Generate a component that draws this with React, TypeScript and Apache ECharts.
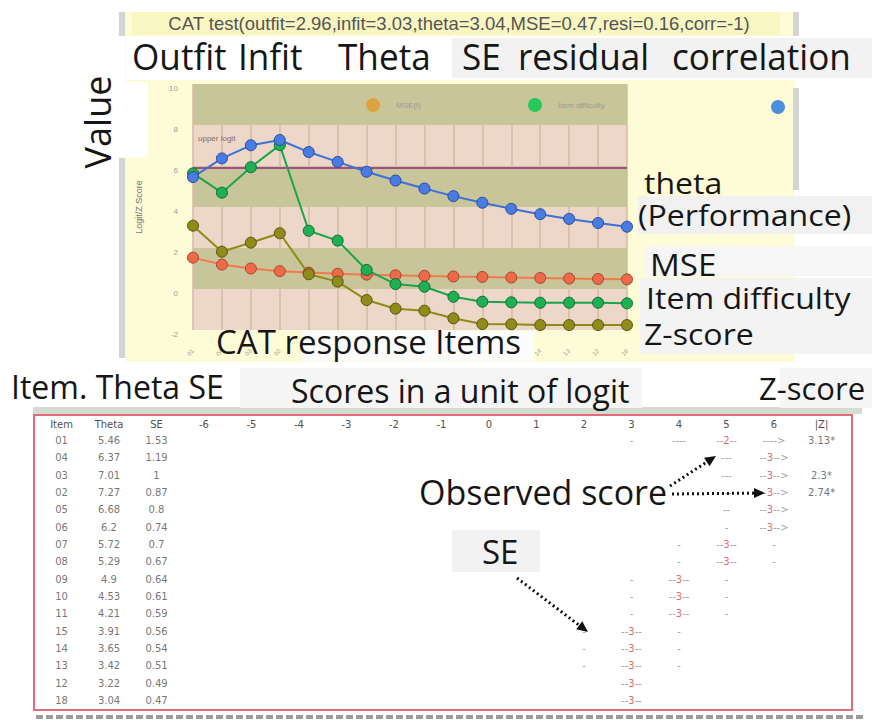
import React, { useEffect, useRef } from 'react';
import * as echarts from 'echarts';

// ---------- data ----------
const items = ['01', '04', '03', '02', '05', '06', '07', '08', '09', '10', '11', '15', '14', '13', '12', '18'];
const theta = [5.46, 6.37, 7.01, 7.27, 6.68, 6.2, 5.72, 5.29, 4.9, 4.53, 4.21, 3.91, 3.65, 3.42, 3.22, 3.04];
const se = [1.53, 1.19, 1, 0.87, 0.8, 0.74, 0.7, 0.67, 0.64, 0.61, 0.59, 0.56, 0.54, 0.51, 0.49, 0.47];
const itemDifficulty = [5.64, 4.7, 5.94, 7.02, 2.84, 2.36, 0.93, 0.24, 0.11, -0.38, -0.62, -0.65, -0.67, -0.67, -0.67, -0.7];
const zScore = [3.09, 1.82, 2.26, 2.72, 0.72, 0.36, -0.54, -0.96, -1.06, -1.43, -1.71, -1.72, -1.76, -1.76, -1.76, -1.76];
const upperLogit = 5.93;
const observedScores = [2, 3, 3, 3, 3, 3, 3, 3, 3, 3, 3, 3, 3, 3, 3, 3];
const absZ = ['3.13*', '', '2.3*', '2.74*', '', '', '', '', '', '', '', '', '', '', '', ''];
// logit column -> text ('#' = observed score)
const scoreBars: [number, string][][] = [
  [[3, '-'], [4, '----'], [5, '--#--'], [6, '---->']],
  [[5, '---'], [6, '--#-->']],
  [[5, '---'], [6, '--#-->']],
  [[5, '---'], [6, '--#-->']],
  [[5, '--'], [6, '--#-->']],
  [[5, '-'], [6, '--#-->']],
  [[4, '-'], [5, '--#--'], [6, '-']],
  [[4, '-'], [5, '--#--'], [6, '-']],
  [[3, '-'], [4, '--#--'], [5, '-']],
  [[3, '-'], [4, '--#--'], [5, '-']],
  [[3, '-'], [4, '--#--'], [5, '-']],
  [[2, '-'], [3, '--#--'], [4, '-']],
  [[2, '-'], [3, '--#--'], [4, '-']],
  [[2, '-'], [3, '--#--'], [4, '-']],
  [[3, '--#--']],
  [[3, '--#--']],
];
const tableHeaders = ['Item', 'Theta', 'SE', '-6', '-5', '-4', '-3', '-2', '-1', '0', '1', '2', '3', '4', '5', '6', '|Z|'];
const titleText = 'CAT test(outfit=2.96,infit=3.03,theta=3.04,MSE=0.47,resi=0.16,corr=-1)';

// ---------- helpers ----------
const BIG = '"Open Sans", "Noto Sans", sans-serif';
function txt(text: string, x: number, y: number, size: number, extra: any = {}) {
  return {
    type: 'text', x, y, z: 30,
    style: { text, fontSize: size, fontFamily: BIG, fill: '#161616', align: 'left', verticalAlign: 'middle', ...(extra.style || {}) },
    ...(extra.el || {}),
  };
}
function box(x: number, y: number, w: number, h: number, fill: string, z = 20, extra: any = {}) {
  return { type: 'rect', z, shape: { x, y, width: w, height: h }, style: { fill, ...extra } };
}
function arrow(x1: number, y1: number, x2: number, y2: number) {
  const a = Math.atan2(y2 - y1, x2 - x1);
  const L = 11, W = 5;
  const bx = x2 - L * Math.cos(a), by = y2 - L * Math.sin(a);
  const nx = -Math.sin(a), ny = Math.cos(a);
  return [
    { type: 'line', z: 31, shape: { x1, y1, x2: bx, y2: by }, style: { stroke: '#111', lineWidth: 3, lineDash: [2, 3] } },
    { type: 'polygon', z: 31, shape: { points: [[x2, y2], [bx + nx * W, by + ny * W], [bx - nx * W, by - ny * W]] }, style: { fill: '#111' } },
  ];
}

const KHAKI = '#c9c59a';
const PINK = '#ecd7c8';
const TFONT = '"DejaVu Sans", Verdana, sans-serif';

function buildTableData() {
  const data: any[] = [];
  items.forEach((it, i) => {
    data.push({ value: [-9, i], text: `{t|${it}}` });
    data.push({ value: [-8, i], text: `{t|${theta[i]}}` });
    data.push({ value: [-7, i], text: `{t|${se[i]}}` });
    scoreBars[i].forEach(([col, s]) => {
      data.push({ value: [col, i], text: '{g|' + s.replace('#', '}{r|' + observedScores[i] + '}{g|') + '}' });
    });
    if (absZ[i]) data.push({ value: [7, i], text: `{t|${absZ[i]}}` });
  });
  return data;
}

function makeSeries(name: string, data: number[], line: string, fill: string, border: string, extra: any = {}) {
  return {
    name, type: 'line', data, xAxisIndex: 0, yAxisIndex: 0,
    symbol: 'circle', symbolSize: 11, showSymbol: true,
    lineStyle: { color: line, width: 2 },
    itemStyle: { color: fill, borderColor: border, borderWidth: 1 },
    emphasis: { disabled: true },
    ...extra,
  };
}

const TOP = { el: { scaleX: 0.95 } };
const RIGHT = { el: { scaleX: 1.07 } };

export default function App() {
  const ref = useRef<HTMLDivElement>(null);
  useEffect(() => {
    const chart = echarts.init(ref.current!, null, { renderer: 'svg' });
    const legendBase = {
      icon: 'circle', itemWidth: 14, itemHeight: 14, selectedMode: false,
      textStyle: { color: '#999', fontSize: 8, fontFamily: 'Liberation Sans' },
    };
    const option: any = {
      animation: false,
      backgroundColor: '#ffffff',
      legend: [
        { ...legendBase, data: [{ name: 'MSE(t)', itemStyle: { color: '#dea23e', borderWidth: 0 } }], left: 361, top: 93, formatter: (n: string) => '     ' + n },
        { ...legendBase, data: [{ name: 'Item difficulty', itemStyle: { color: '#26c85c', borderWidth: 0 } }], left: 523, top: 93, formatter: (n: string) => '     ' + n },
        { ...legendBase, data: [{ name: 'Theta', itemStyle: { color: '#4a8fe0', borderWidth: 0 } }], left: 766, top: 95, formatter: () => '' },
      ],
      grid: [
        { left: 193, top: 84, width: 434, height: 246, show: true, backgroundColor: PINK, borderWidth: 0 },
        { left: 14, top: 432, width: 858, height: 277.3 },
      ],
      xAxis: [
        {
          gridIndex: 0, type: 'category', data: items, boundaryGap: false,
          axisLine: { show: false }, axisTick: { show: false },
          splitLine: { show: true, interval: 0, lineStyle: { color: '#d6b9a4', width: 1.5 } },
          axisLabel: { interval: 0, fontSize: 6, color: '#999', rotate: 45, margin: 20 },
        },
        {
          gridIndex: 1, type: 'value', min: -10, max: 8, interval: 1, position: 'top',
          axisLine: { show: false }, axisTick: { show: false }, splitLine: { show: false },
          axisLabel: {
            margin: 3, color: '#505050', fontSize: 10, fontFamily: TFONT,
            formatter: (v: number) => tableHeaders[v + 9] ?? '',
          },
        },
      ],
      yAxis: [
        {
          gridIndex: 0, type: 'value', min: -2, max: 10, interval: 2,
          name: 'Logit/Z Score', nameLocation: 'middle', nameGap: 50,
          nameTextStyle: { color: '#777', fontSize: 9, fontFamily: 'Liberation Sans' },
          axisLine: { show: false }, axisTick: { show: false }, splitLine: { show: false },
          axisLabel: { color: '#a0a0a0', fontSize: 8, margin: 15, verticalAlign: 'top' },
        },
        { gridIndex: 1, type: 'category', data: items, inverse: true, show: false },
      ],
      series: [
        makeSeries('MSE(t)', se, '#f07a4a', '#ec6a48', '#a8462c', {
          markArea: {
            silent: true,
            data: [
              [{ yAxis: 10, itemStyle: { color: KHAKI } }, { yAxis: 8 }],
              [{ yAxis: 6, itemStyle: { color: KHAKI } }, { yAxis: 4 }],
              [{ yAxis: 2, itemStyle: { color: KHAKI } }, { yAxis: 0 }],
            ],
          },
          markLine: {
            silent: true, symbol: 'none', z: 2, label: { show: false },
            lineStyle: { color: '#a24e86', width: 2, type: 'solid' },
            data: [{ yAxis: upperLogit }],
          },
        }),
        makeSeries('Item difficulty', itemDifficulty, '#1aa54c', '#1fb055', '#0e6b2f'),
        makeSeries('Theta', theta, '#3d70d8', '#4a7be2', '#2a4c9e'),
        makeSeries('Z-score', zScore, '#8e8b16', '#8f8c1c', '#56540a'),
        {
          type: 'scatter', xAxisIndex: 1, yAxisIndex: 1, silent: true,
          symbol: 'circle', symbolSize: 1, itemStyle: { color: 'rgba(0,0,0,0)' },
          data: buildTableData(),
          label: {
            show: true, position: 'inside', fontSize: 10, fontFamily: TFONT, color: '#505050',
            formatter: (p: any) => p.data.text,
            rich: {
              t: { color: '#505050', fontSize: 10, fontFamily: TFONT },
              g: { color: '#8a8a8a', fontSize: 10, fontFamily: TFONT },
              r: { color: '#e23c3c', fontSize: 10, fontFamily: TFONT },
            },
          },
        },
      ],
      graphic: [
        // top panel
        box(125, 12, 670, 350, '#fdfcd6', -10),
        box(132, 12, 648, 23, '#f9f6c2', -9),
        box(119, 12, 6, 24, '#d4d4d4', -9),
        box(119, 158, 6, 200, '#d4d4d4', -9),
        box(793, 12, 6, 24, '#d4d4d4', -9),
        box(793, 88, 6, 102, '#d4d4d4', -9),
        { type: 'text', x: 459, y: 23, z: 5, style: { text: titleText, fontSize: 18.5, fontFamily: 'Liberation Sans', fill: '#555', align: 'center', verticalAlign: 'middle' } },
        // top words
        box(126, 36, 746, 44, '#ffffff', 20),
        box(452, 38, 420, 40, '#f2f2f2', 21),
        txt('Outfit', 132, 56, 37, TOP),
        txt('Infit', 238, 56, 37, TOP),
        txt('Theta', 338, 56, 37, TOP),
        txt('SE', 462, 56, 37, TOP),
        txt('residual', 518, 56, 37, TOP),
        txt('correlation', 672, 56, 37, TOP),
        // Value
        box(78, 82, 70, 75, '#ffffff', 20),
        txt('Value', 97, 122, 36, { style: { align: 'center', fontWeight: 500 }, el: { rotation: Math.PI / 2 } }),
        // upper logit
        { type: 'text', x: 198, y: 138, z: 25, style: { text: 'upper logit', fontSize: 8, fontFamily: 'Liberation Sans', fill: '#8b6a5c', verticalAlign: 'middle' } },
        // right annotations
        box(638, 196, 234, 38, '#f1f1f1', 20),
        box(645, 246, 227, 30, '#f6f6f6', 20),
        box(640, 278, 232, 76, '#f3f3f3', 20),
        txt('theta', 644, 182, 30, RIGHT),
        txt('(Performance)', 638, 214, 30, RIGHT),
        txt('MSE', 650, 264, 31, RIGHT),
        txt('Item difficulty', 646, 297, 30, RIGHT),
        txt('Z-score', 644, 333, 30, RIGHT),
        // CAT response Items
        box(302, 331, 232, 30, '#fcfcfc', 1),
        txt('CAT response Items', 216, 341, 33),
        // bottom labels
        box(240, 368, 402, 40, '#f5f5f5', 20),
        box(780, 368, 92, 40, '#f5f5f5', 20),
        txt('Item. Theta SE', 11, 386, 32),
        txt('Scores in a unit of logit', 291, 390, 32),
        txt('Z-score', 759, 388, 31),
        // table frame
        box(33, 407, 829, 7, '#d3dccf', -5),
        { type: 'rect', z: -5, shape: { x: 34, y: 415, width: 818, height: 295 }, style: { fill: '#ffffff', stroke: '#e36b7b', lineWidth: 2 } },
        { type: 'line', z: -5, shape: { x1: 36, y1: 717, x2: 864, y2: 717 }, style: { stroke: '#9c9c9c', lineWidth: 4, lineDash: [7, 3] } },
        // annotations in table
        txt('Observed score', 419, 492, 34),
        ...arrow(670, 486, 716, 456),
        ...arrow(672, 494, 765, 493),
        box(452, 530, 88, 42, '#f2f2f2', 20),
        txt('SE', 482, 551, 33),
        ...arrow(517, 578, 588, 632),
      ],
    };
    chart.setOption(option);
    return () => chart.dispose();
  }, []);
  return <div ref={ref} style={{ position: 'absolute', left: 0, top: 0, width: 872, height: 722 }} />;
}
